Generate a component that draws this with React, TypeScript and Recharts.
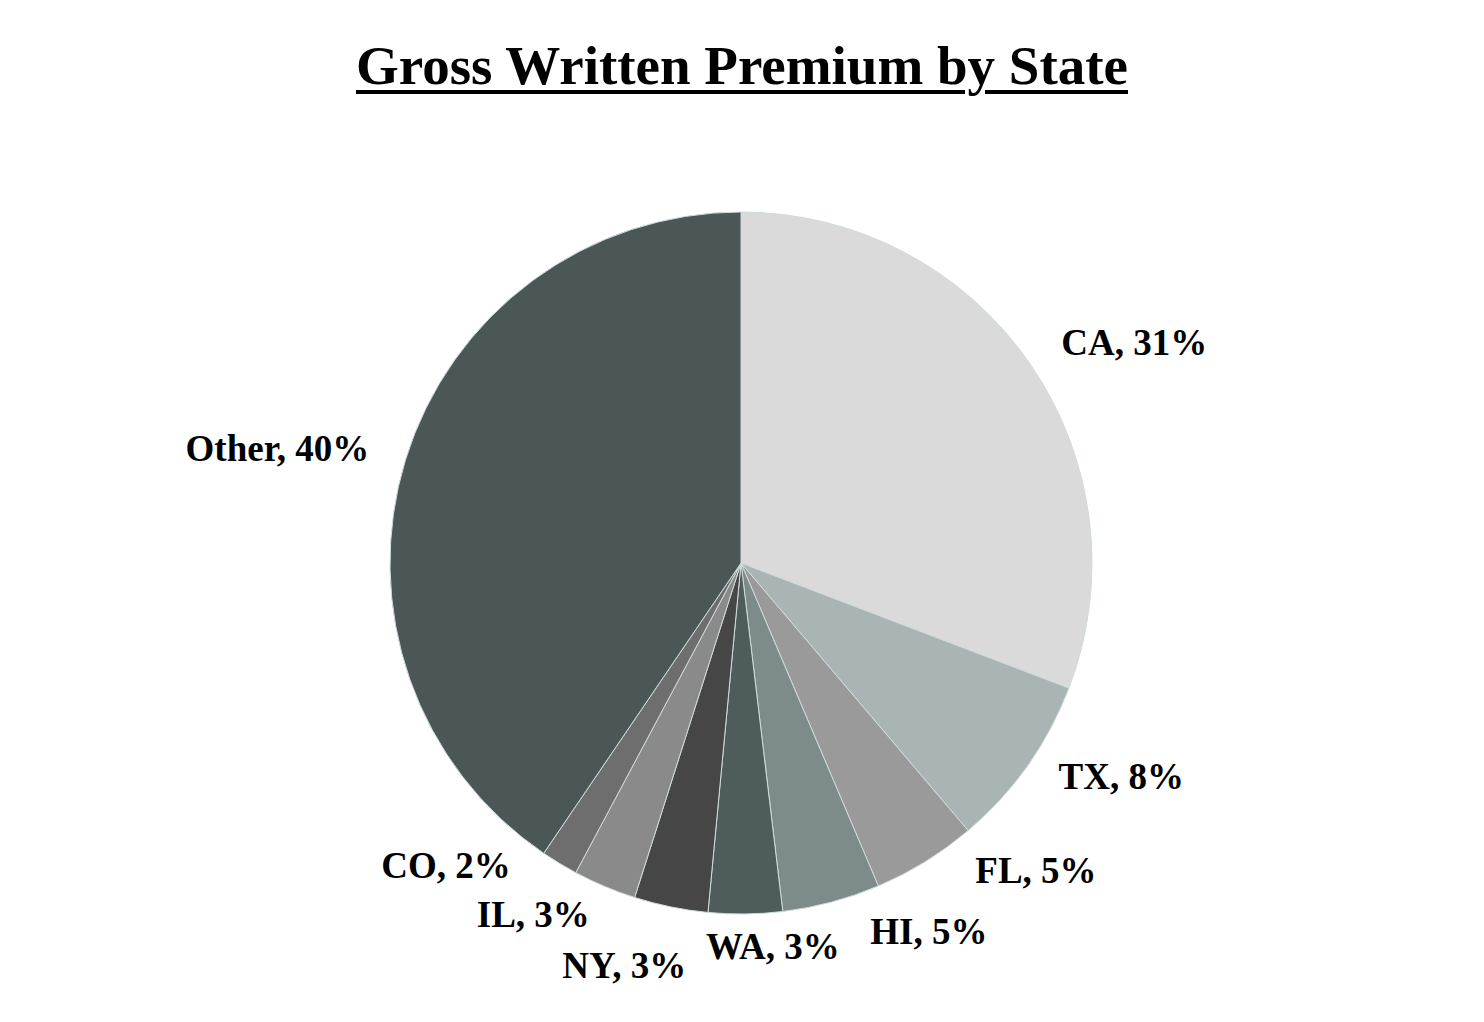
import { PieChart, Pie, Cell } from 'recharts'

const STATES = ['CA', 'TX', 'FL', 'HI', 'WA', 'NY', 'IL', 'CO', 'Other']
const SHARES = [30.8, 8.0, 4.8, 4.5, 3.4, 3.4, 2.9, 1.7, 40.5]
const PCT_LABELS = ['31%', '8%', '5%', '5%', '3%', '3%', '3%', '2%', '40%']
const COLORS = ['#dadada', '#aab4b4', '#9a9a9a', '#7d8b8b', '#4f5c5c', '#464646', '#8a8a8a', '#6e6e6e', '#4b5757']

const data = STATES.map((name, i) => ({ name, value: SHARES[i], pct: PCT_LABELS[i] }))

// small hand nudges so the crowded bottom labels sit like the original's best-fit layout
const LABEL_NUDGE: Record<string, [number, number]> = {
  TX: [0, -11],
  FL: [30, -24],
  HI: [29, -7],
  WA: [27, -5],
  NY: [23, 21],
  IL: [0, -7],
  CO: [-29, -30]
}

const RADIAN = Math.PI / 180

const renderLabel = (props: any) => {
  const { cx, cy, midAngle, outerRadius, index } = props
  const r = outerRadius + 38
  const cos = Math.cos(-midAngle * RADIAN)
  const sin = Math.sin(-midAngle * RADIAN)
  const name = data[index].name
  const [dx, dy] = LABEL_NUDGE[name] || [0, 0]
  const x = cx + r * cos + dx
  const y = cy + r * sin + dy
  const anchor = Math.abs(cos) < 0.1 ? 'middle' : cos > 0 ? 'start' : 'end'
  return (
    <text
      x={x}
      y={y}
      textAnchor={anchor}
      dominantBaseline="central"
      fill="#000"
      style={{ fontFamily: "'Liberation Serif', 'Times New Roman', serif", fontWeight: 'bold', fontSize: 37 }}
    >
      {`${name}, ${data[index].pct}`}
    </text>
  )
}

export default function App() {
  return (
    <div style={{ position: 'absolute', left: 0, top: 0, width: 1484, height: 1022, background: '#fff' }}>
      <div
        style={{
          position: 'absolute',
          left: 0,
          top: 34,
          width: 1484,
          textAlign: 'center',
          fontFamily: "'Liberation Serif', 'Times New Roman', serif",
          fontWeight: 'bold',
          fontSize: 55,
          lineHeight: '64px',
          textDecoration: 'underline',
          textDecorationThickness: 4,
          textUnderlineOffset: 6,
          color: '#000'
        }}
      >
        Gross Written Premium by State
      </div>
      <div style={{ position: 'absolute', left: 0, top: 0 }}>
        <PieChart width={1484} height={1022} margin={{ top: 0, right: 0, bottom: 0, left: 0 }}>
          <Pie
            data={data}
            dataKey="value"
            nameKey="name"
            cx={741}
            cy={563}
            outerRadius={351}
            startAngle={90}
            endAngle={-270}
            stroke="#cfdcdc"
            strokeWidth={1}
            label={renderLabel}
            labelLine={false}
            isAnimationActive={false}
          >
            {data.map((entry, index) => (
              <Cell key={`cell-${index}`} fill={COLORS[index]} />
            ))}
          </Pie>
        </PieChart>
      </div>
    </div>
  )
}
